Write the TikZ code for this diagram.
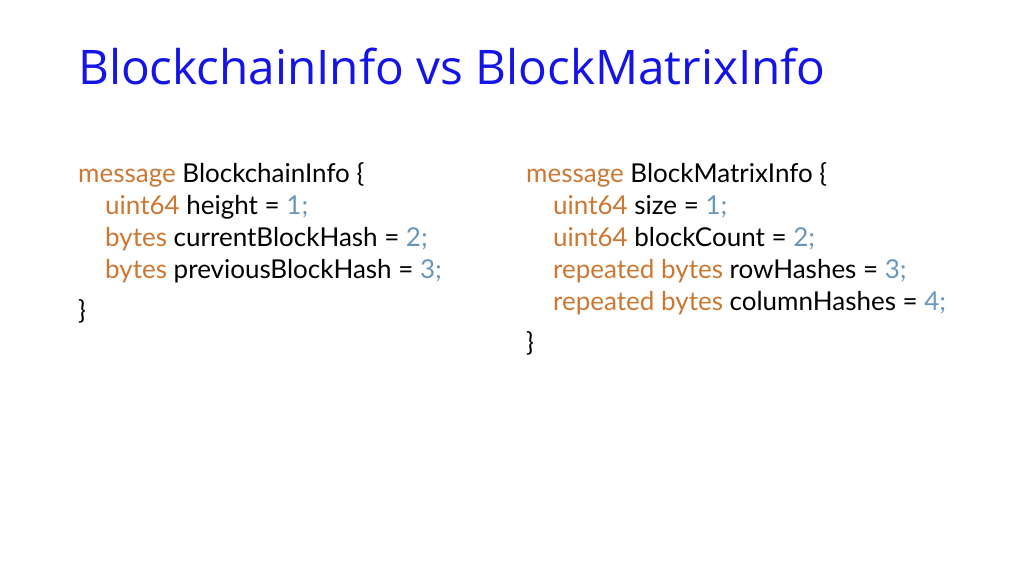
\documentclass[tikz,border=0pt]{standalone}
\usepackage{fontspec}
\setmainfont{Lato}
\newfontfamily\titlefont{Open Sans}
\definecolor{kw}{RGB}{204,120,50}
\definecolor{num}{RGB}{104,151,187}
\definecolor{ttl}{RGB}{20,20,230}
\newcommand{\K}[1]{\textcolor{kw}{#1}}
\newcommand{\N}[1]{\textcolor{num}{#1}}
\begin{document}
\begin{tikzpicture}[x=1pt,y=-1pt,
  code/.style={anchor=base west,inner sep=0pt,font=\fontsize{26}{30}\selectfont,text=black}]
\useasboundingbox[fill=white] (0,0) rectangle (1024,575);
\node[anchor=base west,inner sep=0pt,font=\titlefont\fontsize{47.7}{52}\selectfont,text=ttl] (title) at (78,85) {BlockchainInfo vs BlockMatrixInfo};
\node[code] (l1) at (78,182) {\K{message} BlockchainInfo \{};
\node[code] (l2) at (105,214) {\K{uint64} height = \N{1;}};
\node[code] (l3) at (105,246) {\K{bytes} currentBlockHash = \N{2;}};
\node[code] (l4) at (105,278) {\K{bytes} previousBlockHash = \N{3;}};
\node[code] (l5) at (78,319) {\}};
\node[code] (r1) at (526,182) {\K{message} BlockMatrixInfo \{};
\node[code] (r2) at (553,214) {\K{uint64} size = \N{1;}};
\node[code] (r3) at (553,246) {\K{uint64} blockCount = \N{2;}};
\node[code] (r4) at (553,278) {\K{repeated bytes} rowHashes = \N{3;}};
\node[code] (r5) at (553,310) {\K{repeated bytes} columnHashes = \N{4;}};
\node[code] (r6) at (526,351) {\}};
\end{tikzpicture}
\end{document}
